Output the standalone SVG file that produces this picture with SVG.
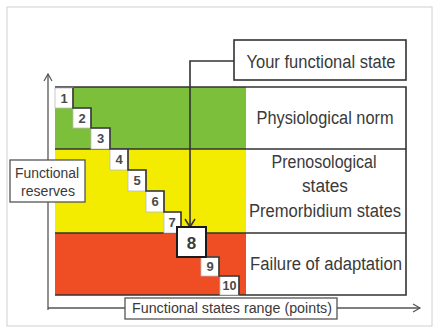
<svg xmlns="http://www.w3.org/2000/svg" width="440" height="330" viewBox="0 0 440 330">
<defs>
<style>
.t{font-family:"Liberation Sans",Arial,sans-serif;fill:#3a3a3a}
.lbl{font-size:18px}
.sm{font-size:14px}
.num{font-size:13px;font-weight:bold;fill:#4a4a4a}
.box{fill:#fff;stroke:#333;stroke-width:1.6}
.nb{fill:#fff;stroke:#bbb;stroke-width:0.8}
.ln{fill:none;stroke:#333;stroke-width:1.6}
</style>
<marker id="ah" markerWidth="12" markerHeight="12" refX="10" refY="6" orient="auto" markerUnits="userSpaceOnUse">
<path d="M2,1 L10,6 L2,11" fill="none" stroke="#333" stroke-width="1.5"/>
</marker>
<marker id="ahg" markerWidth="12" markerHeight="12" refX="10" refY="6" orient="auto" markerUnits="userSpaceOnUse">
<path d="M3,2 L10,6 L3,10" fill="none" stroke="#555" stroke-width="1.2"/>
</marker>
</defs>
<rect x="0" y="0" width="440" height="330" fill="#fff"/>
<rect x="7" y="7" width="425" height="319" fill="none" stroke="#d0d0d0" stroke-width="1"/>

<g id="bands">
<rect x="55" y="87" width="191" height="62" fill="#7cbf3a"/>
<rect x="55" y="149" width="191" height="84" fill="#f3ec00"/>
<rect x="55" y="233" width="191" height="62" fill="#ef4d23"/>
<rect x="246" y="87" width="160" height="208" fill="#fff"/>
<path d="M55,87 H406 V295 H55 M55,149 H406 M55,233 H406" class="ln"/>
</g>

<g id="connectors">
<path d="M48,310 V74" fill="none" stroke="#555" stroke-width="1.3" marker-end="url(#ahg)"/>
<path d="M48,308 H420" fill="none" stroke="#555" stroke-width="1.3" marker-end="url(#ahg)"/>
<path d="M234,61 H190 V227" fill="none" stroke="#333" stroke-width="1.6" marker-end="url(#ah)"/>
</g>

<g id="steps">
<rect class="nb" x="55" y="88" width="18" height="20"/>
<rect class="nb" x="73" y="108" width="18" height="20"/>
<rect class="nb" x="91" y="128" width="19" height="21"/>
<rect class="nb" x="110" y="149" width="18" height="21"/>
<rect class="nb" x="128" y="170" width="18" height="21"/>
<rect class="nb" x="146" y="191" width="18" height="21"/>
<rect class="nb" x="164" y="212" width="17" height="21"/>
<rect class="nb" x="201" y="257" width="18" height="19"/>
<rect class="nb" x="220" y="276" width="19" height="19"/>
<path class="ln" d="M73,88 V108 H91 V128 H110 V149 H128 V170 H146 V191 H164 V212 H181 V227 M206,257 H219 V276 H239 V295" stroke-width="1.5"/>
<text class="t num" x="64" y="103" text-anchor="middle">1</text>
<text class="t num" x="82" y="123" text-anchor="middle">2</text>
<text class="t num" x="100.5" y="143" text-anchor="middle">3</text>
<text class="t num" x="119" y="164" text-anchor="middle">4</text>
<text class="t num" x="137" y="185" text-anchor="middle">5</text>
<text class="t num" x="155" y="206" text-anchor="middle">6</text>
<text class="t num" x="172" y="227" text-anchor="middle">7</text>
<text class="t num" x="210" y="271" text-anchor="middle">9</text>
<text class="t num" x="229.5" y="290" text-anchor="middle" textLength="14" lengthAdjust="spacingAndGlyphs">10</text>
</g>

<g id="state8">
<rect x="177" y="227" width="29" height="30" fill="#fff" stroke="#1a1a1a" stroke-width="2"/>
<text class="t" x="191.5" y="249" text-anchor="middle" font-size="17" font-weight="bold" fill="#444">8</text>
</g>

<g id="your-state">
<rect class="box" x="234" y="40" width="172" height="40"/>
<text class="t lbl" x="321" y="68" text-anchor="middle" textLength="149" lengthAdjust="spacingAndGlyphs">Your functional state</text>
</g>

<g id="norm">
<text class="t lbl" x="325" y="124" text-anchor="middle" textLength="137" lengthAdjust="spacingAndGlyphs">Physiological norm</text>
</g>

<g id="prenosological">
<text class="t lbl" x="324" y="168" text-anchor="middle" textLength="105" lengthAdjust="spacingAndGlyphs">Prenosological</text>
<text class="t lbl" x="325" y="192" text-anchor="middle" textLength="46" lengthAdjust="spacingAndGlyphs">states</text>
<text class="t lbl" x="325" y="217" text-anchor="middle" textLength="152" lengthAdjust="spacingAndGlyphs">Premorbidium states</text>
</g>

<g id="failure">
<text class="t lbl" x="326" y="270" text-anchor="middle" textLength="152" lengthAdjust="spacingAndGlyphs">Failure of adaptation</text>
</g>

<g id="reserves">
<rect x="10" y="160" width="75" height="42" fill="#fff" stroke="#555" stroke-width="1.3"/>
<text class="t sm" x="47" y="178" text-anchor="middle" textLength="64" lengthAdjust="spacingAndGlyphs">Functional</text>
<text class="t sm" x="48" y="196" text-anchor="middle" textLength="54" lengthAdjust="spacingAndGlyphs">reserves</text>
</g>

<g id="range">
<rect x="125" y="298" width="212" height="21" fill="#fff" stroke="#555" stroke-width="1.3"/>
<text class="t sm" x="232" y="313" text-anchor="middle" textLength="200" lengthAdjust="spacingAndGlyphs">Functional states range (points)</text>
</g>
</svg>
